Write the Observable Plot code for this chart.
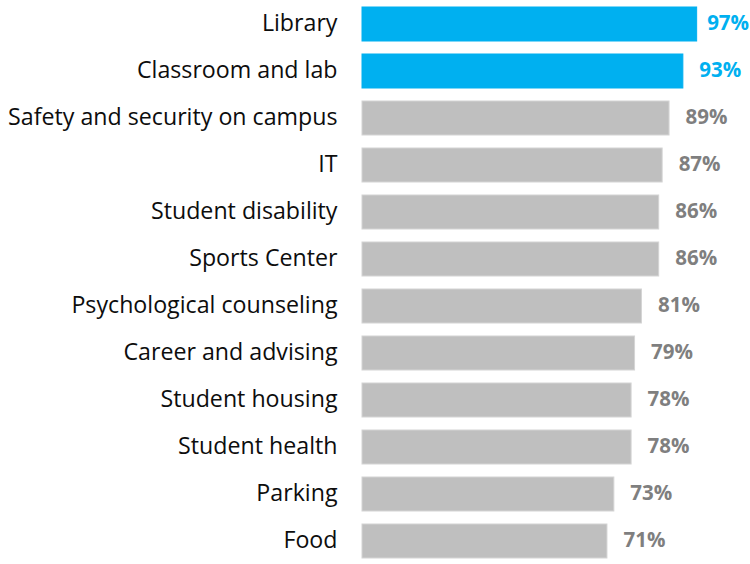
<!DOCTYPE html>
<html>
<head>
<meta charset="utf-8">
<script src="https://cdn.jsdelivr.net/npm/d3@7"></script>
<script src="https://cdn.jsdelivr.net/npm/@observablehq/plot@0.6"></script>
<style>
  html, body { margin: 0; padding: 0; background: #fff; }
  #chart svg { display: block; }
</style>
</head>
<body>
<div id="chart"></div>
<script>
const categories = ["Library", "Classroom and lab", "Safety and security on campus", "IT", "Student disability", "Sports Center", "Psychological counseling", "Career and advising", "Student housing", "Student health", "Parking", "Food"];
const values = [97, 93, 89, 87, 86, 86, 81, 79, 78, 78, 73, 71];
const highlighted = ["Library", "Classroom and lab"];

const data = categories.map((c, i) => ({category: c, value: values[i], hi: highlighted.includes(c)}));
const maxValue = d3.max(values);

const FONT = "'Open Sans', sans-serif";

const labelStyle = {
  x: "value", y: "category",
  text: d => d.value + "%",
  textAnchor: "start",
  dy: -1,
  fill: d => d.hi ? "#00b0f0" : "#7f7f7f",
  fontWeight: "bold",
  fontSize: 20.5
};

const chart = Plot.plot({
  width: 750,
  height: 564,
  marginLeft: 362,
  marginRight: 43,
  marginTop: 1,
  marginBottom: 0,
  style: {fontFamily: FONT, background: "#fff"},
  x: {domain: [0, 100], axis: null},
  y: {domain: categories, paddingInner: 0.28, paddingOuter: 0.08, label: null},
  marks: [
    Plot.barX(data, {
      x: "value", y: "category",
      fill: d => d.hi ? "#00b0f0" : "#bfbfbf",
      stroke: d => d.hi ? "#00b0f0" : "#d4d4d4",
      strokeWidth: 1
    }),
    Plot.text(data.filter(d => d.value < maxValue), {...labelStyle, dx: 16}),
    Plot.text(data.filter(d => d.value === maxValue), {...labelStyle, dx: 10}),
    Plot.axisY({
      tickSize: 0,
      tickPadding: 25,
      fontSize: 23.2,
      fill: "#0d0d0d",
      dy: -1,
      label: null
    })
  ]
});
document.getElementById("chart").appendChild(chart);
</script>
</body>
</html>
